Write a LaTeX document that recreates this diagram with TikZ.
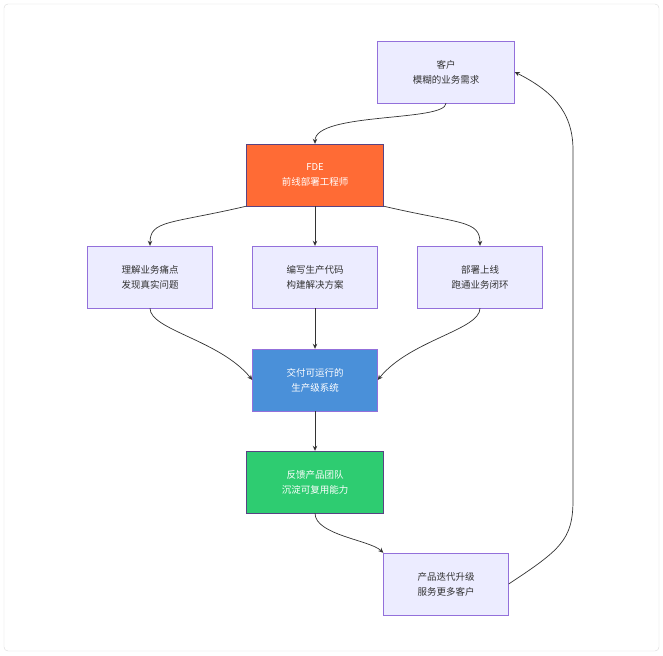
\documentclass[tikz,border=0pt]{standalone}
\usepackage{fontspec}
\setmainfont{Noto Sans CJK SC}
\usetikzlibrary{arrows.meta,positioning}
\definecolor{boxfill}{HTML}{ECECFF}
\definecolor{boxline}{HTML}{9370DB}
\definecolor{fdeorange}{HTML}{FF6B35}
\definecolor{shipblue}{HTML}{4A90D9}
\definecolor{loopgreen}{HTML}{2ECC71}
\definecolor{linkgray}{HTML}{333333}

\begin{document}
\begin{tikzpicture}[x=1pt, y=-1pt, >=Stealth,
    card/.style={draw=boxline, fill=boxfill, minimum width=125pt, minimum height=62pt,
      align=center, font=\fontsize{9.5}{15}\selectfont, text=linkgray},
    wide/.style={card, minimum width=137pt},
    hot/.style={wide, draw=boxline!60!black, text=white},
    link/.style={linkgray, line width=0.7pt, arrows={-Stealth[length=5pt,width=4.5pt]}}]

    %% Background
    \draw[draw=gray!30, fill=white, rounded corners=4pt] (4,4) rectangle (659,651);
    \useasboundingbox (0,0) rectangle (663,655);

    % Nodes
    \node[wide] (client) at (446,72) {客户\\模糊的业务需求};
    \node[hot, fill=fdeorange] (fde) at (315,175) {FDE\\前线部署工程师};
    \node[card] (learn) at (150,277) {理解业务痛点\\发现真实问题};
    \node[card] (code) at (315,277) {编写生产代码\\构建解决方案};
    \node[card] (deploy) at (480,277) {部署上线\\跑通业务闭环};
    \node[card, fill=shipblue, text=white] (ship) at (315,380) {交付可运行的\\生产级系统};
    \node[hot, fill=loopgreen] (feed) at (315,482) {反馈产品团队\\沉淀可复用能力};
    \node[card] (iter) at (446,584) {产品迭代升级\\服务更多客户};

    % Links
    \draw[link] (client.south) .. controls (446,122) and (315,112) .. (fde.north);
    \draw[link] (fde.south west) .. controls (170,224) and (150,220) .. (learn.north);
    \draw[link] (fde.south) -- (code.north);
    \draw[link] (fde.south east) .. controls (460,224) and (480,220) .. (deploy.north);
    \draw[link] (learn.south) .. controls (150,330) and (220,340) .. (ship.west);
    \draw[link] (code.south) -- (ship.north);
    \draw[link] (deploy.south) .. controls (480,330) and (410,340) .. (ship.east);
    \draw[link] (ship.south) -- (feed.north);
    \draw[link] (feed.south) .. controls (315,535) and (370,540) .. (iter.north west);
    \draw[link] (iter.east) .. controls (560,550) and (573,540) .. (573,500)
      -- (573,150) .. controls (573,110) and (550,90) .. (client.east);
\end{tikzpicture}
\end{document}
